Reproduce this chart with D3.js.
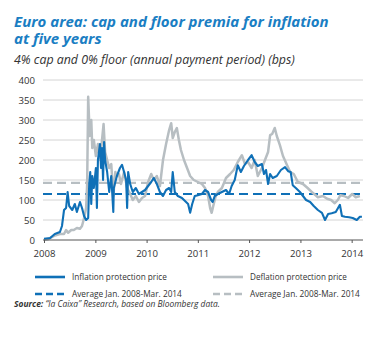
<!DOCTYPE html>
<html><head><meta charset="utf-8">
<script src="https://cdn.jsdelivr.net/npm/d3@7"></script>
<style>body{margin:0;background:#fff}svg{display:block}</style>
</head><body>
<script>
// ---- data (decimal years, basis points) ----
const infYears = [2008.00,2008.12,2008.21,2008.31,2008.35,2008.39,2008.43,2008.46,2008.49,2008.55,2008.60,2008.64,2008.70,2008.74,2008.78,2008.82,2008.86,2008.88,2008.90,2008.92,2008.94,2008.97,2009.01,2009.03,2009.05,2009.09,2009.11,2009.13,2009.15,2009.17,2009.19,2009.23,2009.27,2009.31,2009.35,2009.36,2009.42,2009.48,2009.52,2009.56,2009.60,2009.62,2009.64,2009.68,2009.73,2009.79,2009.85,2009.91,2009.97,2010.03,2010.09,2010.14,2010.20,2010.26,2010.32,2010.38,2010.44,2010.48,2010.51,2010.55,2010.61,2010.69,2010.77,2010.81,2010.85,2010.89,2010.94,2011.00,2011.08,2011.14,2011.20,2011.26,2011.29,2011.33,2011.39,2011.47,2011.55,2011.61,2011.66,2011.72,2011.78,2011.84,2011.90,2011.98,2012.05,2012.11,2012.17,2012.25,2012.29,2012.33,2012.37,2012.41,2012.46,2012.54,2012.62,2012.70,2012.76,2012.81,2012.85,2012.91,2012.99,2013.05,2013.11,2013.19,2013.26,2013.34,2013.42,2013.48,2013.54,2013.61,2013.69,2013.77,2013.81,2013.87,2013.95,2014.02,2014.10,2014.16,2014.20];
const infValues = [3,5,15,20,35,75,80,120,85,75,90,70,95,80,60,50,55,140,170,90,160,130,180,80,200,240,180,230,150,245,200,170,120,160,70,130,160,180,188,170,150,80,170,140,120,130,115,120,125,135,145,155,140,120,110,125,130,120,170,120,110,105,95,90,68,90,110,112,115,125,120,100,95,110,115,120,125,115,135,150,187,170,185,200,212,195,185,190,165,175,140,165,155,160,175,182,172,170,137,130,120,110,100,95,85,75,68,50,65,67,70,88,60,58,57,55,50,58,58];
const defYears = [2008.00,2008.08,2008.16,2008.23,2008.31,2008.39,2008.43,2008.47,2008.53,2008.58,2008.64,2008.70,2008.74,2008.78,2008.82,2008.84,2008.86,2008.89,2008.92,2008.94,2008.97,2009.01,2009.05,2009.09,2009.13,2009.16,2009.19,2009.23,2009.27,2009.31,2009.35,2009.39,2009.42,2009.46,2009.50,2009.56,2009.62,2009.68,2009.73,2009.79,2009.85,2009.91,2009.97,2010.03,2010.09,2010.14,2010.20,2010.26,2010.32,2010.38,2010.44,2010.48,2010.51,2010.55,2010.59,2010.63,2010.67,2010.73,2010.79,2010.85,2010.92,2011.00,2011.08,2011.14,2011.20,2011.24,2011.27,2011.31,2011.35,2011.39,2011.47,2011.55,2011.63,2011.70,2011.78,2011.86,2011.92,2011.98,2012.05,2012.11,2012.17,2012.25,2012.31,2012.37,2012.41,2012.45,2012.50,2012.54,2012.60,2012.66,2012.74,2012.80,2012.87,2012.95,2013.05,2013.14,2013.24,2013.34,2013.44,2013.52,2013.60,2013.67,2013.73,2013.78,2013.85,2013.93,2014.01,2014.08,2014.16,2014.20];
const defValues = [0,2,8,12,15,15,25,18,25,25,30,28,35,55,80,140,358,260,300,230,250,210,240,200,250,290,220,200,180,190,110,170,160,165,140,170,130,115,100,110,95,105,110,145,165,150,160,135,200,240,275,292,255,270,280,250,225,200,180,160,150,145,140,130,110,80,68,90,110,120,130,155,165,175,195,212,190,195,180,200,160,180,200,220,262,265,280,260,237,210,187,170,165,145,140,130,118,107,110,103,100,92,100,112,110,105,115,107,110];
const infAverage = 115;
const defAverage = 143;
const yTicks = [0,50,100,150,200,250,300,350,400];
const xYears = [2008,2009,2010,2011,2012,2013,2014];
const title = ["Euro area: cap and floor premia for inflation","at five years"];
const subtitle = "4% cap and 0% floor (annual payment period) (bps)";
const legendLabels = ["Inflation protection price","Deflation protection price","Average Jan. 2008-Mar. 2014","Average Jan. 2008-Mar. 2014"];
const sourceBold = "Source:";
const sourceText = " \u201Cla Caixa\u201D Research, based on Bloomberg data.";

// ---- drawing ----
const W=380,H=338;
const font = "'Open Sans', Lato, sans-serif";
const BLUE="#0f70b7", GRAY="#b7bec2";
const svg=d3.select("body").append("svg").attr("width",W).attr("height",H);
svg.append("rect").attr("width",W).attr("height",H).attr("fill","#fff");

// scale a text's font-size so its width matches a target width
function fit(sel, target){ const n=sel.node(); const fs=+sel.attr("font-size"); const w=n.getComputedTextLength(); if(w>0) sel.attr("font-size", fs*target/w); return +sel.attr("font-size"); }

const toDate = v => { const yr=Math.floor(v); const s=new Date(yr,0,1), e=new Date(yr+1,0,1); return new Date(+s+(v-yr)*(e-s)); };
const x=d3.scaleTime().domain([new Date(2008,0,1),new Date(2014,3,1)]).range([44,364.3]);
const y=d3.scaleLinear().domain([0,400]).range([240,80]);

const t=svg.append("g").attr("font-family",font);
const t1=t.append("text").attr("x",14).attr("y",27).attr("fill","#1a7ec3")
 .attr("font-size",14).attr("font-weight","bold").attr("font-style","italic").text(title[0]);
const tfs=fit(t1,315);
t.append("text").attr("x",14).attr("y",44).attr("fill","#1a7ec3")
 .attr("font-size",tfs).attr("font-weight","bold").attr("font-style","italic").text(title[1]);
const st=t.append("text").attr("x",14).attr("y",64).attr("fill","#333").attr("font-size",11)
 .attr("font-style","italic").text(subtitle);
fit(st,281);

// grid
const g=svg.append("g");
g.selectAll("line.grid").data(yTicks.filter(d=>d>0)).join("line")
 .attr("x1",43).attr("x2",363).attr("y1",d=>y(d)).attr("y2",d=>y(d))
 .attr("stroke","#c9c9c9").attr("stroke-width",0.8);
g.selectAll("text.yl").data(yTicks).join("text")
 .attr("x",35).attr("y",d=>y(d)+3.5).attr("text-anchor","end")
 .attr("font-family",font).attr("font-size",9.6).attr("fill","#333").text(d=>d);

// averages
const avgs=[{v:defAverage,c:GRAY},{v:infAverage,c:BLUE}];
g.selectAll("line.avg").data(avgs).join("line")
 .attr("x1",43).attr("x2",363).attr("y1",d=>y(d.v)).attr("y2",d=>y(d.v))
 .attr("stroke",d=>d.c).attr("stroke-width",2.2).attr("stroke-dasharray","9,5");

// series
const line=d3.line().x(d=>x(d[0])).y(d=>y(d[1]));
const defData=defYears.map((d,i)=>[toDate(d),defValues[i]]);
const infData=infYears.map((d,i)=>[toDate(d),infValues[i]]);
g.append("path").datum(defData).attr("d",line).attr("fill","none").attr("stroke",GRAY).attr("stroke-width",2.5).attr("stroke-linejoin","round");
g.append("path").datum(infData).attr("d",line).attr("fill","none").attr("stroke",BLUE).attr("stroke-width",2.1).attr("stroke-linejoin","round");

// x axis
const xa=svg.append("g").attr("transform","translate(0,240)")
 .call(d3.axisBottom(x).tickValues(xYears.map(yy=>new Date(yy,0,1))).tickFormat(d3.timeFormat("%Y")).tickSize(3).tickSizeOuter(0));
xa.select(".domain").attr("stroke","#555").attr("d","M43,0H363");
xa.selectAll(".tick line").attr("stroke","#555");
xa.selectAll(".tick text").attr("font-family",font).attr("font-size",9.6).attr("fill","#333").attr("dy","1.1em");

// legend
const legendColors=[BLUE,GRAY,BLUE,GRAY], legendDash=[null,null,"7,4","7,4"], legendW=[95,97,110,110];
const lg=svg.append("g").attr("font-family",font);
const lx=[35,213], ly=[277,294];
legendLabels.forEach((lab,i)=>{
  const cx=lx[i%2], cy=ly[Math.floor(i/2)];
  lg.append("line").attr("x1",cx).attr("x2",cx+30).attr("y1",cy).attr("y2",cy)
    .attr("stroke",legendColors[i]).attr("stroke-width",2.6).attr("stroke-dasharray",legendDash[i]);
  const tx=lg.append("text").attr("x",cx+37).attr("y",cy+3.3).attr("font-size",9).attr("fill","#333").text(lab);
  fit(tx,legendW[i]);
});

// source
const src=svg.append("text").attr("x",14).attr("y",307).attr("font-family",font).attr("font-size",8.5).attr("font-style","italic").attr("fill","#333");
src.append("tspan").attr("font-weight","bold").text(sourceBold);
src.append("tspan").text(sourceText);
fit(src,206);
</script>
</body></html>
